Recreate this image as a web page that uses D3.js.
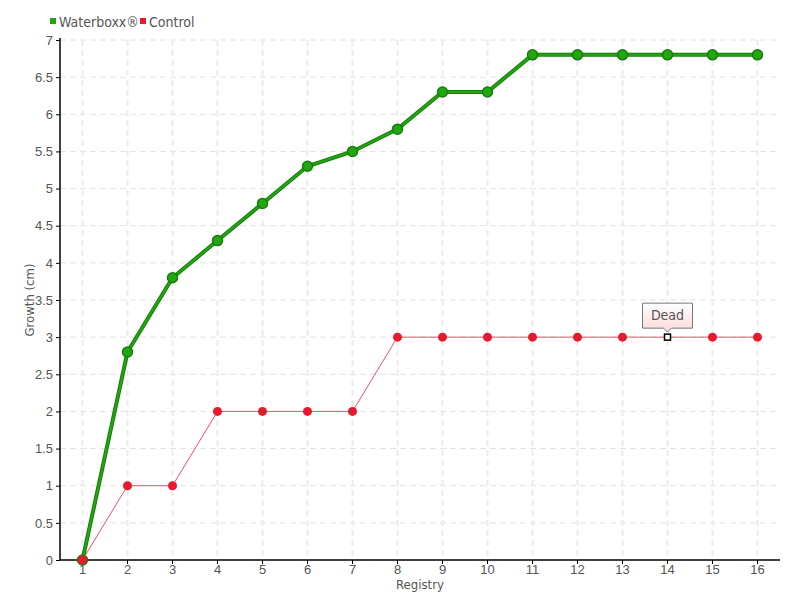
<!DOCTYPE html>
<html><head><meta charset="utf-8">
<script src="https://cdn.jsdelivr.net/npm/d3@7"></script>
<style>body{margin:0;background:#fff;}svg{display:block;font-family:"DejaVu Sans Condensed","Liberation Sans Narrow",sans-serif;}</style>
</head><body><svg id="c" width="800" height="600"></svg>
<script>
const categories = ["1","2","3","4","5","6","7","8","9","10","11","12","13","14","15","16"];
const waterboxx = [0,2.8,3.8,4.3,4.8,5.3,5.5,5.8,6.3,6.3,6.8,6.8,6.8,6.8,6.8,6.8];
const control = [0,1,1,2,2,2,2,3,3,3,3,3,3,3,3,3];
const yTicks = [0,0.5,1,1.5,2,2.5,3,3.5,4,4.5,5,5.5,6,6.5,7];
const deadIndex = 13;

const svg = d3.select("#c");
const L=60,R=780,T=40,B=560;
const x = d3.scaleBand().domain(categories).range([L,R]);
const cx = d => x(d)+x.bandwidth()/2;
const y = d3.scaleLinear().domain([0,7]).range([B,T]);

// grid
svg.append("g").selectAll("line").data(yTicks.slice(1)).join("line")
 .attr("x1",L).attr("x2",R).attr("y1",d=>y(d)).attr("y2",d=>y(d))
 .attr("stroke","#e2e2e2").attr("stroke-dasharray","6,4");
svg.append("g").selectAll("line").data(categories).join("line")
 .attr("x1",d=>cx(d)).attr("x2",d=>cx(d)).attr("y1",T).attr("y2",B)
 .attr("stroke","#ececec").attr("stroke-width",2).attr("stroke-dasharray","6,4");

// axes
const fmt = d3.format("~g");
const ya = svg.append("g").attr("transform",`translate(${L},0)`)
 .call(d3.axisLeft(y).tickValues(yTicks).tickFormat(fmt).tickSize(4).tickPadding(3));
const xa = svg.append("g").attr("transform",`translate(0,${B})`)
 .call(d3.axisBottom(x).tickSize(4).tickPadding(1));
[ya,xa].forEach(a=>{
 a.select(".domain").attr("stroke","#000").attr("stroke-width",1.5);
 a.selectAll(".tick line").attr("stroke","#000");
 a.selectAll("text").attr("fill","#555").attr("font-size",13);
});
ya.select(".domain").attr("d",`M0,${B}V${T-2}`);
xa.select(".domain").attr("d",`M${L},0H${R}`);

// lines
const line = arr => d3.line().x((d,i)=>cx(categories[i])).y(d=>y(d))(arr);
svg.append("path").attr("d",line(waterboxx)).attr("fill","none")
 .attr("stroke","#177d0d").attr("stroke-width",4);
svg.append("path").attr("d",line(waterboxx)).attr("fill","none")
 .attr("stroke","#22a80f").attr("stroke-width",2);
svg.append("g").selectAll("circle").data(waterboxx).join("circle")
 .attr("cx",(d,i)=>cx(categories[i])).attr("cy",d=>y(d)).attr("r",5)
 .attr("fill","#22a80f").attr("stroke","#177d0d").attr("stroke-width",1.5);

svg.append("path").attr("d",line(control)).attr("fill","none")
 .attr("stroke","#f0506a").attr("stroke-width",1);
const cg = svg.append("g");
control.forEach((d,i)=>{
 if(i===deadIndex){
  cg.append("rect").attr("x",cx(categories[i])-3).attr("y",y(d)-3).attr("width",6).attr("height",6)
   .attr("fill","#fff").attr("stroke","#000").attr("stroke-width",1.5);
 } else {
  cg.append("circle").attr("cx",cx(categories[i])).attr("cy",y(d)).attr("r",4.5).attr("fill","#e8192c");
 }
});

// Dead tooltip
const dx = cx(categories[deadIndex]), dy = y(control[deadIndex]);
const defs = svg.append("defs");
const gr = defs.append("linearGradient").attr("id","tg").attr("x1",0).attr("x2",0).attr("y1",0).attr("y2",1);
gr.append("stop").attr("offset","0%").attr("stop-color","#ffffff");
gr.append("stop").attr("offset","100%").attr("stop-color","#fcd8d8");
const bw=50,bh=25,bx=dx-25,by=dy-34;
svg.append("path")
 .attr("d",`M${bx},${by}H${bx+bw}V${by+bh}H${dx+4}L${dx},${by+bh+4}L${dx-4},${by+bh}H${bx}Z`)
 .attr("fill","url(#tg)").attr("stroke","#777").attr("stroke-width",1);
svg.append("text").attr("x",dx).attr("y",by+17).attr("text-anchor","middle")
 .attr("font-size",14).attr("fill","#555").text("Dead");

// labels
svg.append("text").attr("x",(L+R)/2).attr("y",589).attr("text-anchor","middle")
 .attr("font-size",13).attr("fill","#555").text("Registry");
svg.append("text").attr("transform",`translate(34,${(T+B)/2}) rotate(-90)`).attr("text-anchor","middle")
 .attr("font-size",13).attr("fill","#555").text("Growth (cm)");

// legend
const leg = [{n:"Waterboxx®",c:"#22a80f",x:50},{n:"Control",c:"#e8192c",x:140}];
leg.forEach(l=>{
 svg.append("rect").attr("x",l.x).attr("y",18).attr("width",6).attr("height",6).attr("fill",l.c);
 svg.append("text").attr("x",l.x+9).attr("y",27).attr("font-size",14).attr("fill","#555").text(l.n);
});
</script></body></html>
